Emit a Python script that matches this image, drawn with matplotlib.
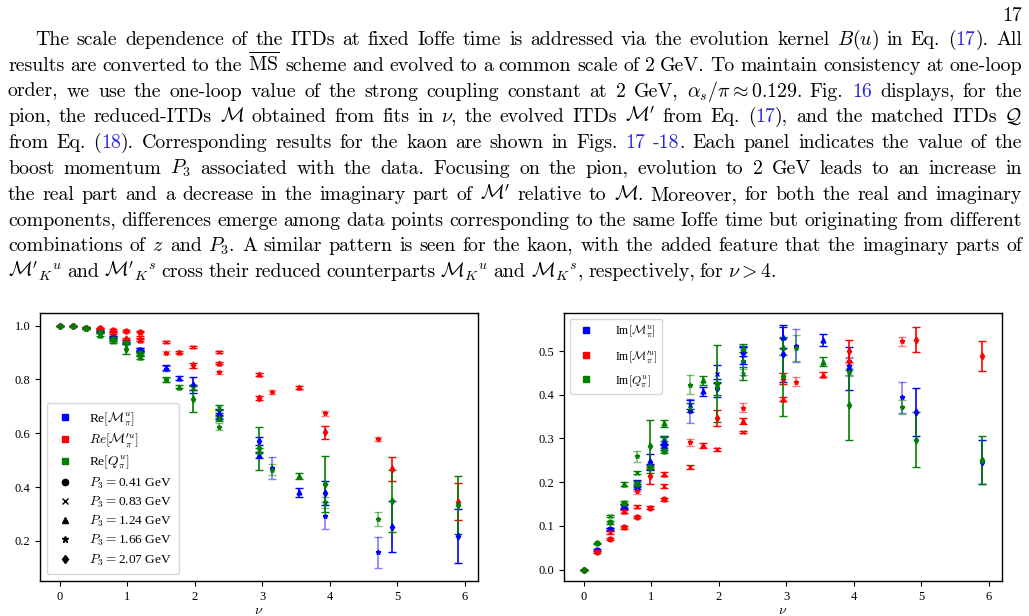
import matplotlib
matplotlib.use('Agg')
import matplotlib.pyplot as plt
from matplotlib.lines import Line2D
from matplotlib.colors import to_rgba

plt.rcParams['font.family'] = ['Liberation Serif', 'DejaVu Serif']
plt.rcParams['mathtext.fontset'] = 'cm'

# ---------------- data ----------------
p3_labels = ['0.41', '0.83', '1.24', '1.66', '2.07']
p3_markers = ['o', 'x', '^', '*', 'd']
p3_alpha = [1.0, 1.0, 1.0, 0.5, 1.0]

nu = [
    [0.0, 0.20, 0.39, 0.59, 0.79, 0.98, 1.18],
    [0.39, 0.79, 1.18, 1.57, 1.97, 2.36],
    [0.59, 1.18, 1.77, 2.36, 2.95, 3.54],
    [0.79, 1.57, 2.36, 3.15, 3.93, 4.72],
    [0.98, 1.97, 2.95, 3.93, 4.92, 5.90],
]

# real parts
re_M = [
    [1.0, 0.998, 0.992, 0.978, 0.959, 0.94, 0.91],
    [0.99, 0.958, 0.905, 0.845, 0.77, 0.68],
    [0.98, 0.91, 0.805, 0.665, 0.52, 0.38],
    [0.955, 0.84, 0.67, 0.47, 0.294, 0.158],
    [0.94, 0.78, 0.572, 0.377, 0.253, 0.219],
]
re_M_err = [
    [0.0, 0.001, 0.002, 0.003, 0.004, 0.005, 0.006],
    [0.002, 0.004, 0.006, 0.008, 0.01, 0.012],
    [0.003, 0.006, 0.008, 0.012, 0.012, 0.015],
    [0.004, 0.01, 0.015, 0.04, 0.05, 0.057],
    [0.008, 0.03, 0.015, 0.045, 0.095, 0.10],
]
re_Mp = [
    [1.0, 0.998, 0.993, 0.99, 0.984, 0.98, 0.978],
    [0.993, 0.972, 0.958, 0.94, 0.922, 0.902],
    [0.99, 0.947, 0.902, 0.861, 0.819, 0.771],
    [0.975, 0.90, 0.827, 0.753, 0.674, 0.579],
    [0.95, 0.852, 0.732, 0.604, 0.467, 0.346],
]
re_Mp_err = [
    [0.0, 0.001, 0.002, 0.002, 0.003, 0.003, 0.003],
    [0.002, 0.003, 0.004, 0.004, 0.004, 0.004],
    [0.003, 0.005, 0.004, 0.004, 0.005, 0.005],
    [0.003, 0.004, 0.005, 0.008, 0.01, 0.008],
    [0.005, 0.01, 0.008, 0.024, 0.045, 0.068],
]
re_Q = [
    [1.0, 0.997, 0.99, 0.975, 0.95, 0.935, 0.897],
    [0.988, 0.94, 0.895, 0.80, 0.77, 0.695],
    [0.967, 0.883, 0.773, 0.655, 0.535, 0.441],
    [0.945, 0.798, 0.625, 0.464, 0.344, 0.281],
    [0.915, 0.727, 0.545, 0.412, 0.348, 0.334],
]
re_Q_err = [
    [0.0, 0.001, 0.002, 0.003, 0.004, 0.005, 0.006],
    [0.002, 0.004, 0.006, 0.008, 0.01, 0.01],
    [0.004, 0.006, 0.006, 0.01, 0.01, 0.01],
    [0.005, 0.008, 0.012, 0.02, 0.02, 0.025],
    [0.02, 0.048, 0.08, 0.105, 0.115, 0.108],
]

# imaginary parts
im_M = [
    [0.0, 0.045, 0.092, 0.143, 0.19, 0.236, 0.28],
    [0.093, 0.198, 0.295, 0.377, 0.447, 0.49],
    [0.145, 0.295, 0.408, 0.50, 0.531, 0.526],
    [0.19, 0.363, 0.476, 0.512, 0.465, 0.394],
    [0.246, 0.415, 0.494, 0.46, 0.36, 0.247],
]
im_M_err = [
    [0.0, 0.002, 0.003, 0.004, 0.005, 0.006, 0.007],
    [0.003, 0.006, 0.01, 0.01, 0.02, 0.02],
    [0.004, 0.008, 0.01, 0.012, 0.025, 0.014],
    [0.01, 0.027, 0.03, 0.038, 0.02, 0.035],
    [0.018, 0.02, 0.065, 0.05, 0.055, 0.05],
]
im_Mp = [
    [0.0, 0.041, 0.07, 0.097, 0.12, 0.142, 0.161],
    [0.085, 0.144, 0.192, 0.235, 0.275, 0.315],
    [0.133, 0.219, 0.284, 0.34, 0.39, 0.446],
    [0.18, 0.291, 0.37, 0.43, 0.478, 0.522],
    [0.215, 0.347, 0.437, 0.50, 0.526, 0.488],
]
im_Mp_err = [
    [0.0, 0.002, 0.002, 0.003, 0.003, 0.003, 0.003],
    [0.004, 0.004, 0.005, 0.004, 0.003, 0.003],
    [0.004, 0.005, 0.005, 0.006, 0.005, 0.005],
    [0.008, 0.008, 0.01, 0.01, 0.008, 0.01],
    [0.02, 0.018, 0.012, 0.025, 0.028, 0.034],
]
im_Q = [
    [0.0, 0.06, 0.108, 0.153, 0.197, 0.235, 0.272],
    [0.123, 0.222, 0.30, 0.37, 0.415, 0.448],
    [0.196, 0.335, 0.433, 0.507, 0.51, 0.476],
    [0.259, 0.423, 0.478, 0.507, 0.452, 0.372],
    [0.282, 0.425, 0.442, 0.377, 0.297, 0.251],
]
im_Q_err = [
    [0.0, 0.002, 0.003, 0.004, 0.005, 0.005, 0.006],
    [0.003, 0.004, 0.006, 0.01, 0.015, 0.015],
    [0.005, 0.008, 0.01, 0.01, 0.02, 0.01],
    [0.013, 0.022, 0.02, 0.03, 0.01, 0.015],
    [0.06, 0.088, 0.09, 0.08, 0.063, 0.054],
]

series_colors = ['blue', 'red', 'green']
re_labels = [r'Re$[\mathcal{M}^u_\pi]$', r'$Re[\mathcal{M}^{\prime u}_\pi]$', r'Re$[Q^u_\pi]$']
im_labels = [r'Im$[\mathcal{M}^u_\pi]$', r'Im$[\mathcal{M}^{\prime u}_\pi]$', r'Im$[Q^u_\pi]$']

# ---------------- page text ----------------
LINK = '#2424d8'
text_lines = [
    r"The scale dependence of the ITDs at fixed Ioffe time is addressed via the evolution kernel $B(u)$ in Eq. (#17#). All",
    r"results are converted to the $\overline{\mathrm{MS}}$ scheme and evolved to a common scale of 2 GeV. To maintain consistency at one-loop",
    r"order, we use the one-loop value of the strong coupling constant at 2 GeV, $\alpha_s/\pi\approx0.129$. Fig. #16# displays, for the",
    r"pion, the reduced-ITDs $\mathcal{M}$ obtained from fits in $\nu$, the evolved ITDs $\mathcal{M}'$ from Eq. (#17#), and the matched ITDs $\mathcal{Q}$",
    r"from Eq. (#18#). Corresponding results for the kaon are shown in Figs. #17# #-18#. Each panel indicates the value of the",
    r"boost momentum $P_3$ associated with the data. Focusing on the pion, evolution to 2 GeV leads to an increase in",
    r"the real part and a decrease in the imaginary part of $\mathcal{M}'$ relative to $\mathcal{M}$. Moreover, for both the real and imaginary",
    r"components, differences emerge among data points corresponding to the same Ioffe time but originating from different",
    r"combinations of $z$ and $P_3$. A similar pattern is seen for the kaon, with the added feature that the imaginary parts of",
    r"$\mathcal{M}'_K{}^u$ and $\mathcal{M}'_K{}^s$ cross their reduced counterparts $\mathcal{M}_K{}^u$ and $\mathcal{M}_K{}^s$, respectively, for $\nu>4$.",
]

W, H = 1029, 616
fig = plt.figure(figsize=(W / 100, H / 100), dpi=100)

FS = 14.3
TXT = dict(fontsize=FS, family='cmr10')
fig.canvas.draw()
rend = fig.canvas.get_renderer()


def text_w(s):
    t = fig.text(0, 0, s, **TXT)
    w = t.get_window_extent(rend).width
    t.remove()
    return w


def segments(word):
    parts = word.split('#')
    return [(p, 'black' if i % 2 == 0 else LINK) for i, p in enumerate(parts) if p]


space = 5.0
x_left, x_right, indent = 8, 1022, 27
y0, dy = 45, 25.8
for i, line in enumerate(text_lines):
    words = [segments(w) for w in line.split(' ')]
    widths = [[text_w(s) for s, c in w] for w in words]
    tot = sum(sum(w) for w in widths)
    x = x_left + (indent if i == 0 else 0)
    if i == len(text_lines) - 1:
        gap = space
    else:
        gap = (x_right - x - tot) / (len(words) - 1)
    y = y0 + i * dy
    for w, ws in zip(words, widths):
        for (s, c), sw in zip(w, ws):
            fig.text(x / W, 1 - y / H, s, color=c, va='baseline', **TXT)
            x += sw
        x += gap

fig.text(1022 / W, 1 - 21 / H, '17', ha='right', va='baseline', **TXT)

# ---------------- plots ----------------
ax1 = fig.add_axes([40 / W, 35 / H, 438 / W, 268 / H])
ax2 = fig.add_axes([564 / W, 35 / H, 438 / W, 268 / H])


def draw(ax, vals, errs):
    for s, col in enumerate(series_colors):
        for p in range(5):
            ax.errorbar(nu[p], vals[s][p], yerr=errs[s][p], fmt=p3_markers[p],
                        color=col, ecolor=to_rgba(col, p3_alpha[p]), markersize=3.5,
                        elinewidth=1.2, capsize=3, capthick=1.2, markeredgewidth=1)


draw(ax1, [re_M, re_Mp, re_Q], [re_M_err, re_Mp_err, re_Q_err])
draw(ax2, [im_M, im_Mp, im_Q], [im_M_err, im_Mp_err, im_Q_err])

ax1.set_xlim(-0.295, 6.195)
ax1.set_ylim(0.051, 1.047)
ax1.set_yticks([0.2, 0.4, 0.6, 0.8, 1.0])
ax2.set_xlim(-0.295, 6.195)
ax2.set_ylim(-0.026, 0.587)
ax2.set_yticks([0.0, 0.1, 0.2, 0.3, 0.4, 0.5])
for ax in (ax1, ax2):
    ax.set_xticks(range(7))
    ax.tick_params(labelsize=9, length=3.5)
    ax.set_xlabel(r'$\nu$', fontsize=10, labelpad=1)
    for sp in ax.spines.values():
        sp.set_linewidth(1.0)

h_series = [Line2D([], [], marker='s', color=c, linestyle='none', markersize=4.5) for c in series_colors]
h_p3 = [Line2D([], [], marker=m, color='black', linestyle='none', markersize=4.5) for m in p3_markers]
ax1.legend(h_series + h_p3, re_labels + [r'$P_3=$' + v + ' GeV' for v in p3_labels],
           loc='lower left', fontsize=9.6, borderpad=0.5, labelspacing=0.3,
           handlelength=1.8, handletextpad=0.9, borderaxespad=0.5)
ax2.legend(h_series, im_labels, loc='upper left', fontsize=8.5, borderpad=0.4,
           labelspacing=0.7, handlelength=2.0, handletextpad=1.4, borderaxespad=0.5)

fig.savefig('out.png', dpi=100)
